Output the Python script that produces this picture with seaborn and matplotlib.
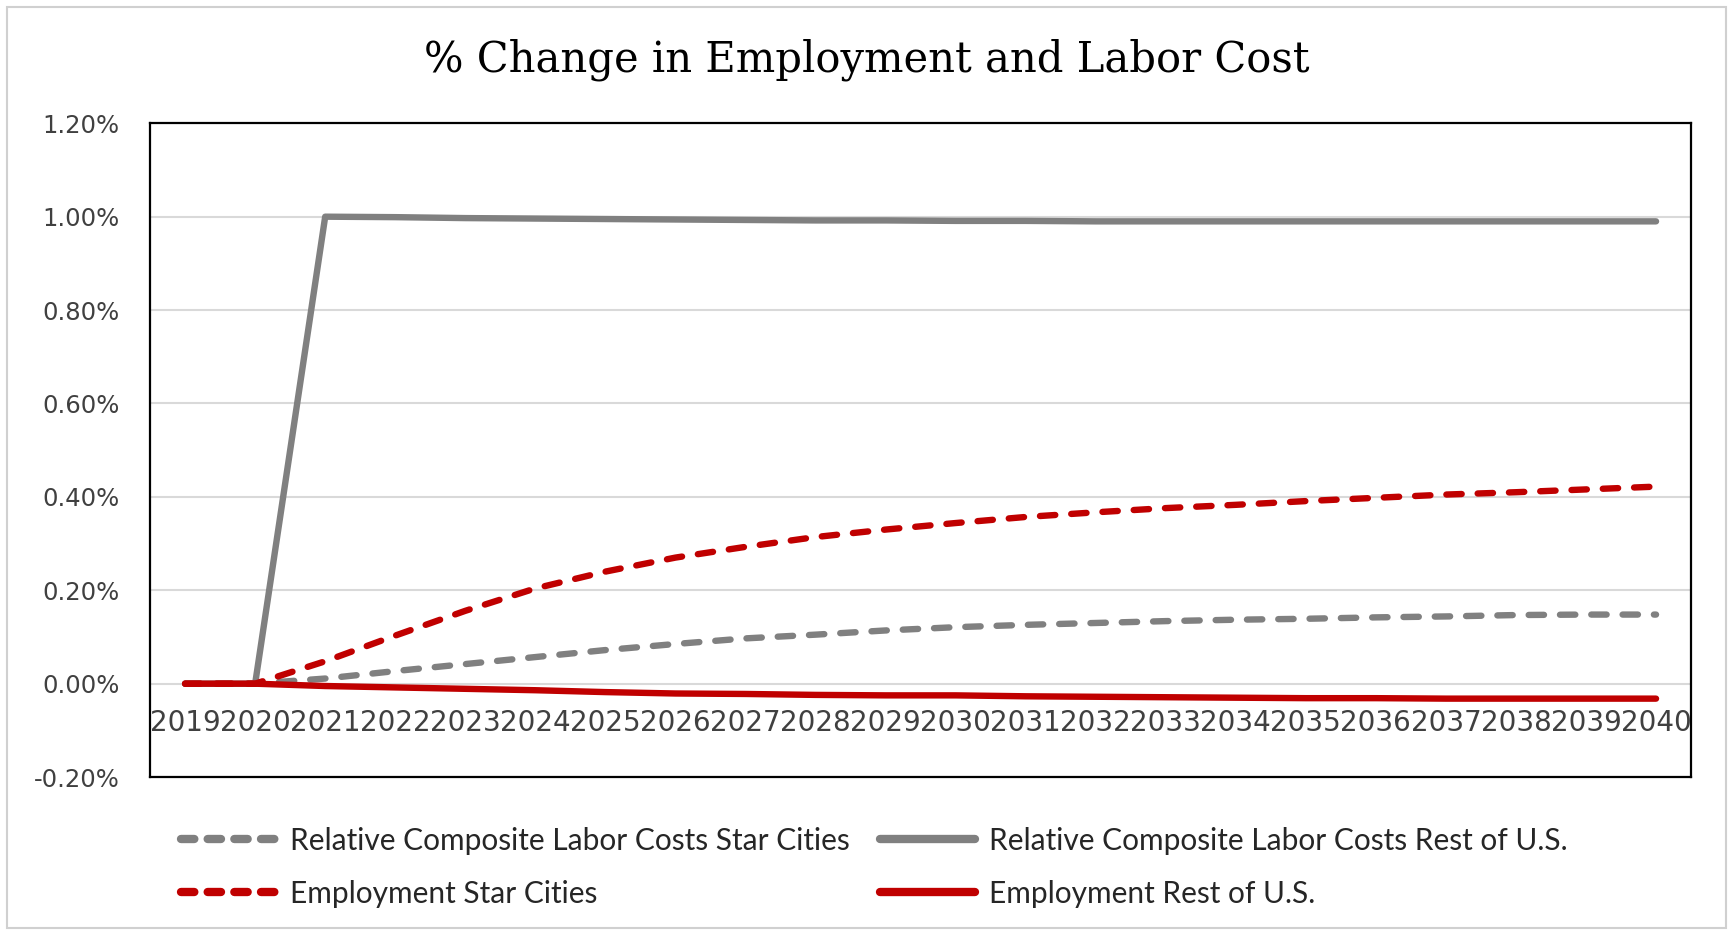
import seaborn as sns
import matplotlib.pyplot as plt
import pandas as pd
from matplotlib.patches import Rectangle
from matplotlib.lines import Line2D

# data (values in percent)
years = list(range(2019, 2041))
labor_star = [0.0, 0.0, 0.011, 0.027, 0.042, 0.057, 0.072, 0.085, 0.097, 0.105, 0.114,
              0.121, 0.126, 0.130, 0.134, 0.137, 0.139, 0.142, 0.144, 0.147, 0.148, 0.148]
labor_rest = [0.0, 0.0, 1.000, 0.999, 0.997, 0.996, 0.995, 0.994, 0.993, 0.992, 0.992,
              0.991, 0.991, 0.990, 0.990, 0.990, 0.990, 0.990, 0.990, 0.990, 0.990, 0.990]
emp_star = [0.0, 0.0, 0.048, 0.103, 0.156, 0.204, 0.240, 0.270, 0.293, 0.314, 0.330,
            0.344, 0.357, 0.367, 0.376, 0.383, 0.391, 0.398, 0.405, 0.410, 0.416, 0.422]
emp_rest = [0.0, 0.0, -0.005, -0.008, -0.011, -0.014, -0.018, -0.021, -0.022, -0.024, -0.025,
            -0.025, -0.027, -0.028, -0.029, -0.030, -0.031, -0.031, -0.032, -0.032, -0.032, -0.032]

labels = ["Relative Composite Labor Costs Star Cities",
          "Relative Composite Labor Costs Rest of U.S.",
          "Employment Star Cities",
          "Employment Rest of U.S."]
series = [labor_star, labor_rest, emp_star, emp_rest]
colors = ["#808080", "#808080", "#C00000", "#C00000"]
dashed = [True, False, True, False]
yticks = [-0.2, 0.0, 0.2, 0.4, 0.6, 0.8, 1.0, 1.2]

sns.set_style("white")
plt.rcParams['font.family'] = ['DejaVu Sans']

fig = plt.figure(figsize=(17.33, 9.34), dpi=100)
ax = fig.add_axes([0.0866, 0.168, 0.8892, 0.700])

# outer chart border
fig.patches.append(Rectangle((0.004, 0.006), 0.992, 0.987, transform=fig.transFigure,
                             facecolor="none", edgecolor="#d0d0d0", linewidth=1.5))

for vals, col, dsh in zip(series, colors, dashed):
    df = pd.DataFrame({"year": years, "value": vals})
    kw = dict(linestyle=(0, (2.4, 2.5)), dash_capstyle="round") if dsh else dict(linestyle="-")
    sns.lineplot(data=df, x="year", y="value", ax=ax, color=col, linewidth=4.6, **kw)

ax.set_xlim(years[0] - 0.5, years[-1] + 0.5)
ax.set_ylim(yticks[0], yticks[-1])
ax.set_yticks(yticks)
ax.set_yticklabels([f"{v:.2f}%" for v in yticks], fontsize=17.5, color="#404040")
ax.tick_params(axis="y", length=0, pad=22)
ax.yaxis.grid(True, color="#d9d9d9", linewidth=1.5)
ax.set_axisbelow(True)
ax.set_xlabel("")
ax.set_ylabel("")
ax.set_xticks([])
for sp in ax.spines.values():
    sp.set_color("black")
    sp.set_linewidth(1.6)

# category labels sit on the zero line, as in the original
loc0 = (0 - yticks[0]) / (yticks[-1] - yticks[0])
sec = ax.secondary_xaxis(loc0)
sec.set_xticks(years)
sec.set_xticklabels([str(y) for y in years], fontsize=20, color="#404040")
sec.tick_params(axis="x", length=0, pad=18)
sec.spines["bottom"].set_visible(False)

fig.text(0.5, 0.936, "% Change in Employment and Labor Cost", ha="center", va="center",
         fontsize=30, family="DejaVu Serif", color="black")

handles = []
for lab, col, dsh in zip(labels, colors, dashed):
    ls = (0, (1.6, 1.6)) if dsh else "-"
    handles.append(Line2D([], [], color=col, linewidth=6, linestyle=ls,
                          dash_capstyle="round", label=lab))
order = [0, 2, 1, 3]
fig.legend([handles[i] for i in order], [labels[i] for i in order], ncol=2,
           loc="upper left", bbox_to_anchor=(0.1045, 0.115), frameon=False,
           prop={"family": "Lato", "size": 21.5}, handlelength=3.2, handletextpad=0.45,
           columnspacing=1.0, labelspacing=0.84, labelcolor="#262626",
           borderpad=0, borderaxespad=0)

fig.savefig("out.png", dpi=100)
